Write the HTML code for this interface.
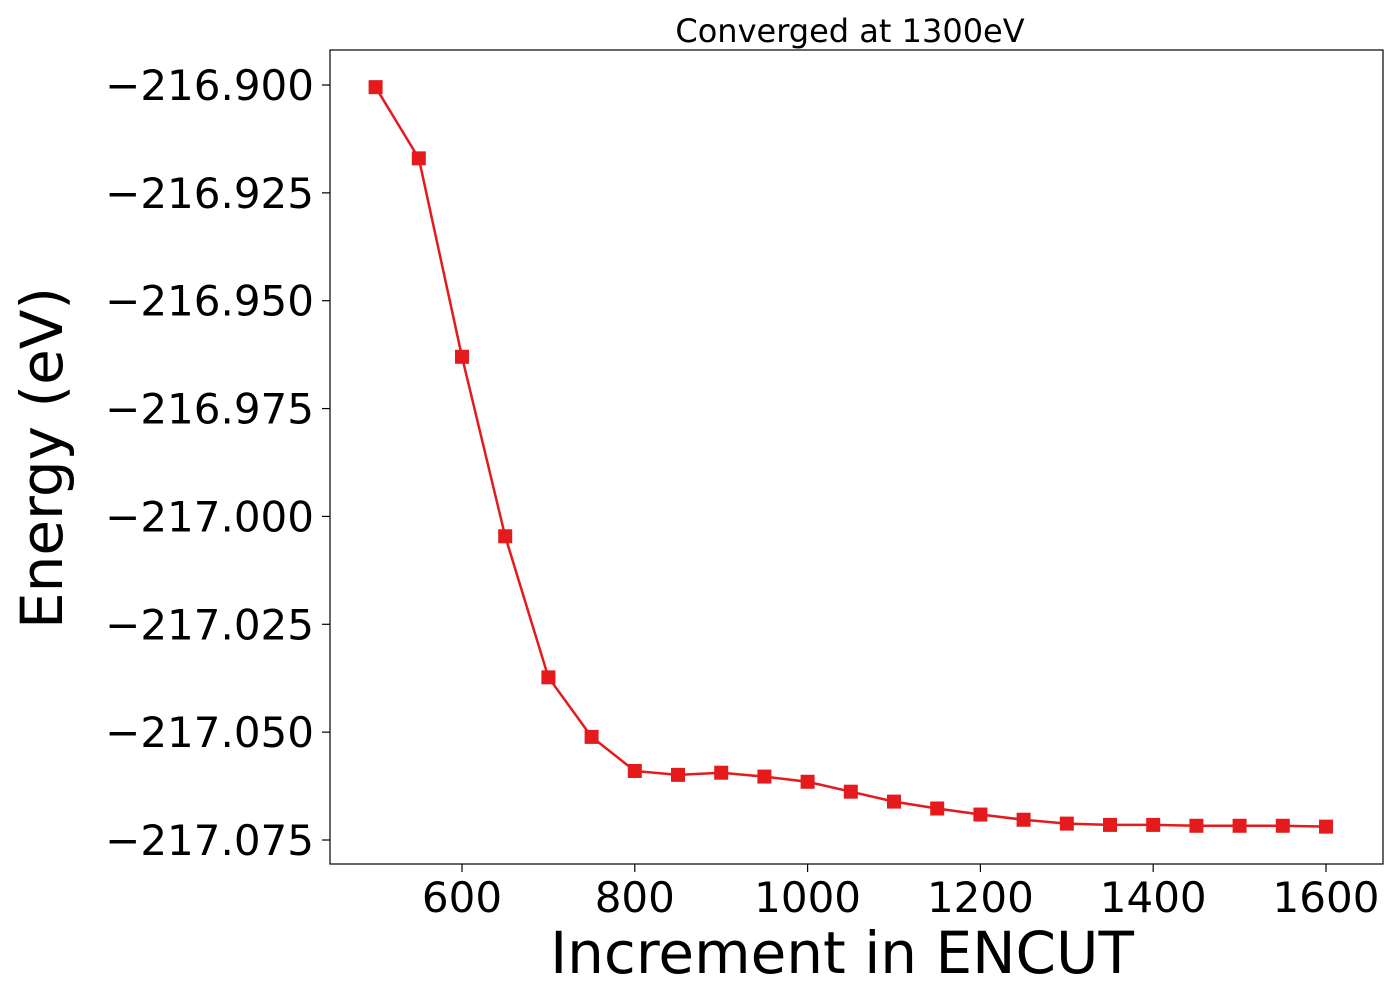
<!DOCTYPE html>
<html><head><meta charset="utf-8"><style>
body{margin:0;background:#fff;}
svg{display:block;font-family:"DejaVu Sans","Liberation Sans",sans-serif;}
</style></head><body>
<svg id="chart" width="1400" height="1000">
<text x="850" y="42" font-size="32" text-anchor="middle">Converged at 1300eV</text>
<text x="842" y="973" font-size="58" text-anchor="middle">Increment in ENCUT</text>
<text transform="translate(62,458) rotate(-90)" font-size="58" text-anchor="middle">Energy (eV)</text>
<g id="xticks"></g><g id="yticks"></g><g id="series"></g>
<rect x="330" y="50" width="1053" height="814" fill="none" stroke="#000" stroke-width="1.2"/>
</svg>
<script>
const encut=[500,550,600,650,700,750,800,850,900,950,1000,1050,1100,1150,1200,1250,1300,1350,1400,1450,1500,1550,1600];
const energy=[-216.9005,-216.917,-216.963,-217.0046,-217.0373,-217.0511,-217.059,-217.0599,-217.0594,-217.0603,-217.0615,-217.0638,-217.0661,-217.0677,-217.0691,-217.0703,-217.0712,-217.0715,-217.0715,-217.0717,-217.0717,-217.0717,-217.0719];
const xTickVals=[600,800,1000,1200,1400,1600];
const yTickVals=[-216.9,-216.925,-216.95,-216.975,-217.0,-217.025,-217.05,-217.075];
const NS="http://www.w3.org/2000/svg";
const X=v=>462+(v-600)*0.864;
const Y=v=>85+(-216.9-v)*4314.3;
function mk(t,a,p){const e=document.createElementNS(NS,t);for(const k in a)e.setAttribute(k,a[k]);p.appendChild(e);return e;}
const xg=document.getElementById('xticks'),yg=document.getElementById('yticks'),sg=document.getElementById('series');
xTickVals.forEach(v=>{
 const l=mk('line',{x1:X(v),x2:X(v),y1:864,y2:872,stroke:'#000','stroke-width':1.2},xg);
 
 
 const t=mk('text',{x:X(v),y:912,'font-size':42,'text-anchor':'middle'},xg);t.textContent=v;
 
 
});
yTickVals.forEach(v=>{
 const l=mk('line',{x1:322,x2:330,y1:Y(v),y2:Y(v),stroke:'#000','stroke-width':1.2},yg);
 
 
 const t=mk('text',{x:314,y:Y(v)+15,'font-size':42,'text-anchor':'end'},yg);t.textContent='\u2212'+Math.abs(v).toFixed(3);
 
 
});
const pl=mk('polyline',{points:encut.map((x,i)=>X(x)+','+Y(energy[i])).join(' '),fill:'none',stroke:'#e41a1c','stroke-width':2.5},sg);


encut.forEach((x,i)=>{
 const r=mk('rect',{x:X(x)-7,y:Y(energy[i])-7,width:14,height:14,fill:'#e41a1c'},sg);
 
 
});
</script>
</body></html>
